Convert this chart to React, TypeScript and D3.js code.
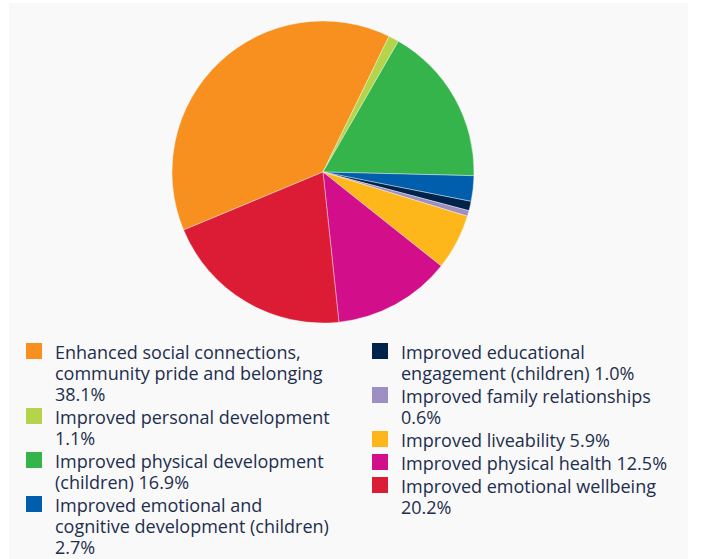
import React from "react";
import * as d3 from "d3";

const categories = [
  "Enhanced social connections, community pride and belonging",
  "Improved personal development",
  "Improved physical development (children)",
  "Improved emotional and cognitive development (children)",
  "Improved educational engagement (children)",
  "Improved family relationships",
  "Improved liveability",
  "Improved physical health",
  "Improved emotional wellbeing",
];
const values = [38.1, 1.1, 16.9, 2.7, 1.0, 0.6, 5.9, 12.5, 20.2];
const colors = [
  "#F7901E",
  "#B5D44A",
  "#34B44A",
  "#005EAD",
  "#00234B",
  "#9D8EC4",
  "#FDB71A",
  "#D20E8A",
  "#DC1C35",
];

const W = 705;
const H = 559;
const FONT = "'Open Sans', sans-serif";
const FS = 18;
const LINE_H = 21;
const ITEM_GAP = 2;
const WRAP = 283;

function wrap(text: string, maxW: number): string[] {
  const c = document.createElement("canvas").getContext("2d")!;
  c.font = `${FS}px ${FONT}`;
  const words = text.split(" ");
  const lines: string[] = [];
  let cur = "";
  for (const w of words) {
    const t = cur ? cur + " " + w : w;
    if (cur && c.measureText(t).width > maxW) {
      lines.push(cur);
      cur = w;
    } else cur = t;
  }
  if (cur) lines.push(cur);
  return lines;
}

export default function App() {
  const cx = 323;
  const cy = 172;
  const r = 151;
  const start = (-112.6 * Math.PI) / 180;
  const pie = d3
    .pie<number>()
    .sort(null)
    .value((d) => d)
    .startAngle(start)
    .endAngle(start + 2 * Math.PI);
  const arcs = pie(values);
  const arc = d3.arc<d3.PieArcDatum<number>>().innerRadius(0).outerRadius(r);

  const cols = [
    { x: 26, idx: [0, 1, 2, 3] },
    { x: 372, idx: [4, 5, 6, 7, 8] },
  ];

  return (
    <svg width={W} height={H} style={{ position: "absolute", left: 0, top: 0 }}>
      <rect x={0} y={0} width={W} height={H} fill="#ffffff" />
      <rect x={9} y={3} width={679} height={H - 3} fill="#f9f9f9" />
      <g transform={`translate(${cx},${cy})`}>
        {arcs.map((a, i) => (
          <path key={i} d={arc(a) || ""} fill={colors[i]} stroke="#f9f9f9" strokeWidth={0.4} />
        ))}
      </g>
      {cols.map((col, ci) => {
        let y = 359;
        return (
          <g key={ci}>
            {col.idx.map((i) => {
              const lines = wrap(`${categories[i]} ${values[i].toFixed(1)}%`, WRAP);
              const y0 = y;
              y += lines.length * LINE_H + ITEM_GAP;
              return (
                <g key={i}>
                  <rect x={col.x} y={y0 - 16} width={16} height={16} fill={colors[i]} />
                  <text
                    x={col.x + 29}
                    y={y0}
                    fontFamily={FONT}
                    fontSize={FS}
                    fill="#1d2e4e"
                  >
                    {lines.map((l, k) => (
                      <tspan key={k} x={col.x + 29} y={y0 + k * LINE_H}>
                        {l}
                      </tspan>
                    ))}
                  </text>
                </g>
              );
            })}
          </g>
        );
      })}
    </svg>
  );
}
